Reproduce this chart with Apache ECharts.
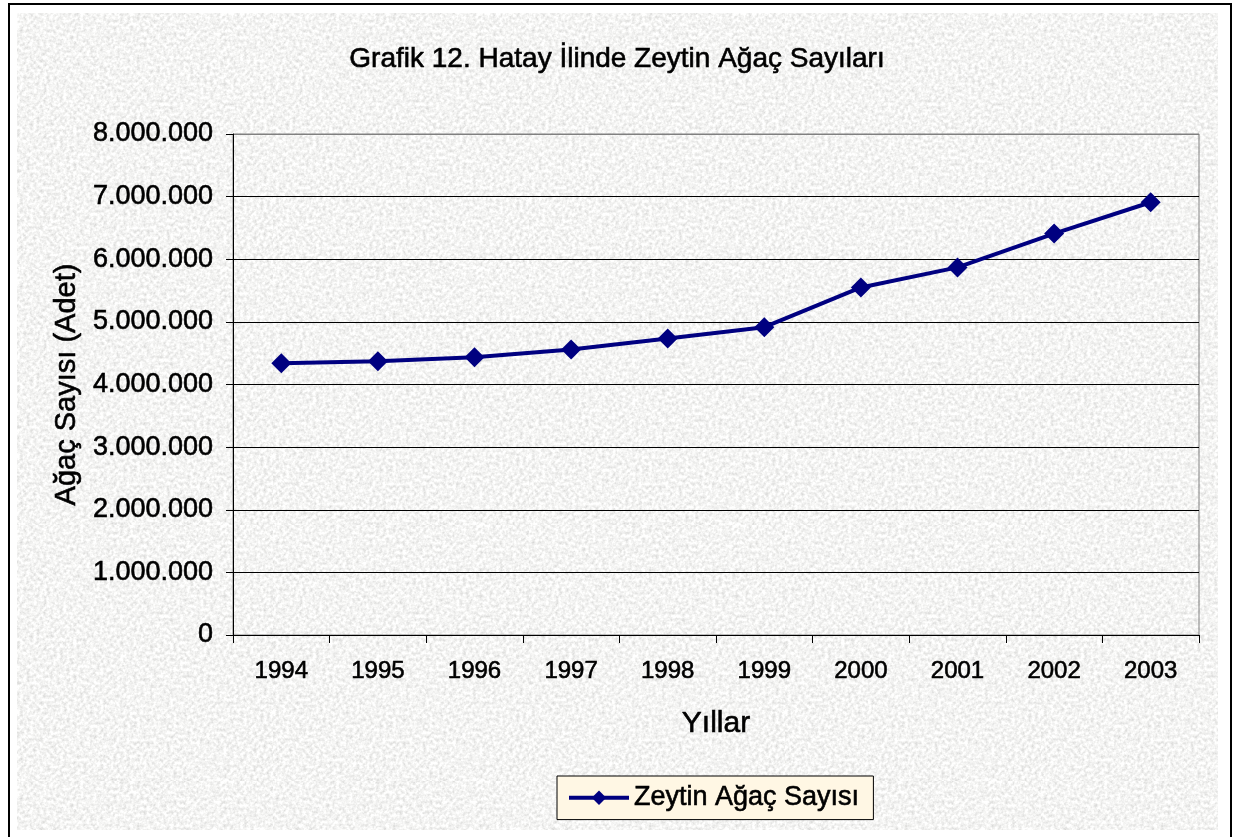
<!DOCTYPE html>
<html>
<head>
<meta charset="utf-8">
<script src="https://cdn.jsdelivr.net/npm/echarts@6/dist/echarts.min.js"></script>
<style>
  html, body { margin: 0; padding: 0; background: #ffffff; }
  #wrap { position: relative; width: 1234px; height: 837px; overflow: hidden; background: #ffffff; }
  #frame { position: absolute; left: 8px; top: 3px; width: 1220px; height: 840px; border: 2px solid #000; box-sizing: content-box; }
  #bg { position: absolute; left: 17px; top: 13px; width: 1201px; height: 817px;
    background-color: #e8e8e6;
    background-image: url("data:image/svg+xml;utf8,<svg xmlns='http://www.w3.org/2000/svg' width='256' height='256'><filter id='n'><feTurbulence type='fractalNoise' baseFrequency='0.3' numOctaves='3' stitchTiles='stitch'/><feColorMatrix type='matrix' values='0.55 0 0 0 0.63  0.55 0 0 0 0.63  0.55 0 0 0 0.62  0 0 0 0 1'/></filter><rect width='100%25' height='100%25' filter='url(%23n)'/></svg>");
  }
  #chart { position: absolute; left: 0; top: 0; width: 1234px; height: 837px; }
</style>
</head>
<body>
<div id="wrap">
  <div id="frame"></div>
  <div id="bg"></div>
  <div id="chart"></div>
</div>
<script>
// ---- data ----
const titleText = 'Grafik 12. Hatay İlinde Zeytin Ağaç Sayıları';
const years = ['1994', '1995', '1996', '1997', '1998', '1999', '2000', '2001', '2002', '2003'];
const seriesName = 'Zeytin Ağaç Sayısı';
const treeCounts = [4340000, 4370000, 4435000, 4560000, 4735000, 4915000, 5550000, 5870000, 6410000, 6910000];
const yMin = 0;
const yMax = 8000000;
const yStep = 1000000;
const yAxisName = 'Ağaç Sayısı (Adet)';
const xAxisName = 'Yıllar';

function fmtThousands(v) {
  return String(Math.round(v)).replace(/\B(?=(\d{3})+(?!\d))/g, '.');
}

const FONT = '"Liberation Sans", Arial, sans-serif';
const THICK = { textBorderColor: '#000', textBorderWidth: 0.6 };
const gridColors = [];
for (let v = yMin; v <= yMax; v += yStep) {
  gridColors.push(v === yMax ? '#808080' : '#000000');
}

const chart = echarts.init(document.getElementById('chart'), null, { renderer: 'canvas' });
chart.setOption({
  backgroundColor: 'transparent',
  animation: false,
  title: {
    text: titleText,
    left: 'center',
    top: 40,
    textStyle: Object.assign({ fontFamily: FONT, fontSize: 28, fontWeight: 'normal', color: '#000' }, THICK)
  },
  legend: {
    data: [seriesName],
    left: 557,
    top: 776,
    padding: [8, 14, 8, 10],
    backgroundColor: '#fff7e4',
    borderColor: '#000',
    borderWidth: 1,
    itemWidth: 60,
    itemHeight: 18,
    itemGap: 5,
    lineStyle: { width: 4 },
    textStyle: Object.assign({ fontFamily: FONT, fontSize: 27, color: '#000' }, THICK)
  },
  grid: {
    left: 233,
    right: 35,
    top: 134,
    bottom: 202,
    show: true,
    borderColor: '#808080',
    borderWidth: 1,
    backgroundColor: 'transparent',
    containLabel: false
  },
  xAxis: {
    type: 'category',
    data: years,
    boundaryGap: true,
    name: xAxisName,
    nameLocation: 'middle',
    nameGap: 74,
    nameTextStyle: Object.assign({ fontFamily: FONT, fontSize: 30, color: '#000' }, THICK),
    axisLine: { lineStyle: { color: '#000', width: 1 } },
    axisTick: { show: true, length: 8, lineStyle: { color: '#000' } },
    axisLabel: Object.assign({ fontFamily: FONT, fontSize: 24, color: '#000', margin: 24 }, THICK),
    splitLine: { show: false }
  },
  yAxis: {
    type: 'value',
    min: yMin,
    max: yMax,
    interval: yStep,
    name: yAxisName,
    nameLocation: 'middle',
    nameGap: 148,
    nameTextStyle: Object.assign({ fontFamily: FONT, fontSize: 29, color: '#000' }, THICK),
    axisLine: { show: true, lineStyle: { color: '#000', width: 1 } },
    axisTick: { show: true, length: 7, lineStyle: { color: '#000' } },
    axisLabel: Object.assign({ fontFamily: FONT, fontSize: 27, color: '#000', margin: 20, formatter: fmtThousands }, THICK),
    splitLine: { show: true, lineStyle: { color: gridColors, width: 1 } }
  },
  series: [{
    name: seriesName,
    type: 'line',
    data: treeCounts,
    symbol: 'diamond',
    symbolSize: 20,
    itemStyle: { color: '#000080' },
    lineStyle: { color: '#000080', width: 4 }
  }]
});
</script>
</body>
</html>
